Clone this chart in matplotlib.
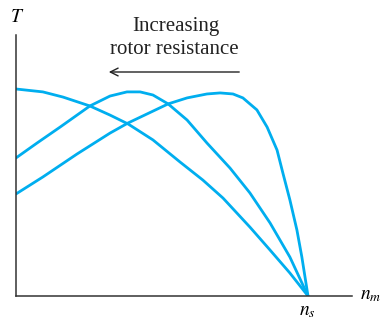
import matplotlib.pyplot as plt

plt.rcParams['mathtext.fontset'] = 'stix'
plt.rcParams['font.family'] = 'Liberation Serif'

# speed (fraction of n_s) and torque (relative)
n_a = [0.0, 0.092, 0.161, 0.253, 0.322, 0.384, 0.469, 0.562, 0.640, 0.709, 0.801, 0.870, 0.938, 1.0]
t_a = [1.0, 0.986, 0.961, 0.918, 0.874, 0.831, 0.754, 0.647, 0.560, 0.473, 0.333, 0.222, 0.111, 0.0]

n_b = [0.0, 0.072, 0.151, 0.253, 0.322, 0.380, 0.425, 0.469, 0.521, 0.586, 0.654, 0.733, 0.801, 0.870, 0.938, 1.0]
t_b = [0.667, 0.739, 0.816, 0.918, 0.966, 0.986, 0.986, 0.971, 0.928, 0.850, 0.739, 0.618, 0.498, 0.353, 0.188, 0.0]

n_c = [0.0, 0.092, 0.209, 0.322, 0.384, 0.521, 0.586, 0.654, 0.699, 0.743, 0.777, 0.825, 0.860,
       0.894, 0.914, 0.938, 0.962, 0.979, 1.0]
t_c = [0.493, 0.575, 0.686, 0.787, 0.836, 0.928, 0.957, 0.976, 0.981, 0.976, 0.957, 0.899, 0.816,
       0.705, 0.594, 0.464, 0.319, 0.188, 0.0]

curves = [(n_a, t_a), (n_b, t_b), (n_c, t_c)]
blue = '#00AEEF'

fig = plt.figure(figsize=(3.8, 3.23), dpi=100)
ax = fig.add_axes([16/380, 27/323, 336/380, 261/323])

for n, t in curves:
    ax.plot(n, t, color=blue, lw=2.0, solid_capstyle='round', solid_joinstyle='round')

ax.set_xlim(0, 336/292)
ax.set_ylim(0, 261/207)
for s in ['top', 'right']:
    ax.spines[s].set_visible(False)
for s in ['left', 'bottom']:
    ax.spines[s].set_color('#333333')
    ax.spines[s].set_linewidth(1.1)
ax.set_xticks([])
ax.set_yticks([])

# labels
fig.text(17/380, 1 - 17/323, r'$T$', fontsize=14, ha='center', va='center')
fig.text(307/380, 1 - 311/323, r'$n_s$', fontsize=14, ha='center', va='center')
fig.text(360/380, 1 - 296/323, r'$n_m$', fontsize=14, ha='left', va='center')

fig.text(176/380, 1 - 27/323, 'Increasing', fontsize=15, ha='center', va='center', color='#222222')
fig.text(174/380, 1 - 50/323, 'rotor resistance', fontsize=15, ha='center', va='center', color='#222222')

ax.annotate('', xy=((106-16)/292, (296-72)/207), xytext=((242-16)/292, (296-72)/207),
            arrowprops=dict(arrowstyle='->', color='#222222', lw=1.0, mutation_scale=14),
            annotation_clip=False)

fig.savefig('out.png', dpi=100)
